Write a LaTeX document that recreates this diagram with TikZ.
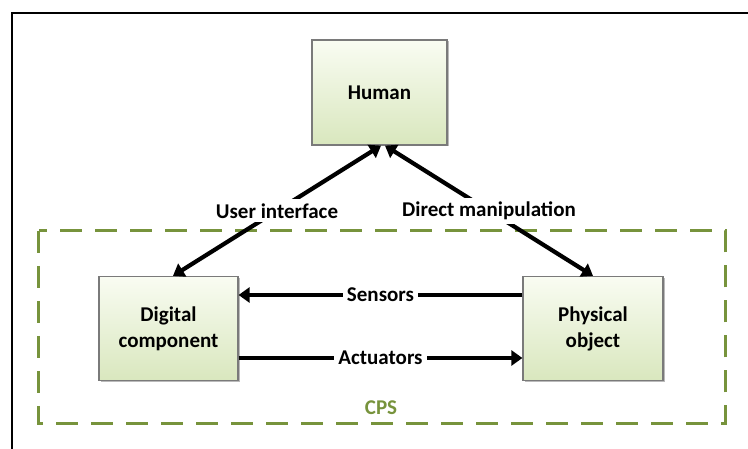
\documentclass[tikz,border=0pt]{standalone}
\usepackage{fontspec}
\setmainfont{Carlito}
\usetikzlibrary{arrows.meta,shadows}
\definecolor{cpsgreen}{HTML}{77933C}
\definecolor{boxtop}{HTML}{F9FCF2}
\definecolor{boxbot}{HTML}{D9E7BE}
\definecolor{boxedge}{HTML}{7A7A7A}
\begin{document}
\begin{tikzpicture}[x=1pt,y=-1pt,
  lbl/.style={font=\fontsize{21}{26}\selectfont\bfseries},
  block/.style={lbl, draw=boxedge, line width=1.2pt,
    top color=boxtop, bottom color=boxbot,
    minimum width=139pt, minimum height=104pt, align=center,
    drop shadow={shadow xshift=1.5pt, shadow yshift=-1.5pt, opacity=0.45, fill=black!60}},
  link/.style={line width=4.2pt, -{Triangle[length=11pt,width=15pt]}},
  biline/.style={line width=4.2pt, {Triangle[length=11pt,width=15pt]}-{Triangle[length=11pt,width=15pt]}},
  tag/.style={lbl, fill=white, inner sep=4pt}
]
\useasboundingbox (0,0) rectangle (748,449);

% outer frame (top and left edges only)
\draw[line width=1.6pt] (12,449) -- (12,13) -- (748,13);

% CPS boundary
\draw[cpsgreen, line width=3pt, dash pattern=on 22pt off 13pt]
  (38.5,231) rectangle (725,423.5);
\node[lbl, text=cpsgreen] (cps) at (381,408) {CPS};

% blocks
\node[block, minimum width=135pt, minimum height=105pt] (human) at (379.5,92.5) {Human};
\node[block] (digital) at (168.5,328.5) {Digital\\component};
\node[block, minimum width=140pt] (phys) at (593,328.5) {Physical\\object};

% connectors
\draw[biline] ([xshift=4.5pt]digital.north) -- node[tag] {User interface} ([xshift=1.5pt]human.south);
\draw[biline] ([xshift=5.5pt]human.south) -- node[tag] {Direct manipulation} (phys.north);
\draw[link] ([yshift=33.5pt]phys.west) -- node[tag] {Sensors} ([yshift=33.5pt]digital.east);
\draw[link] ([yshift=-29.5pt]digital.east) -- node[tag] {Actuators} ([yshift=-29.5pt]phys.west);
\end{tikzpicture}
\end{document}
